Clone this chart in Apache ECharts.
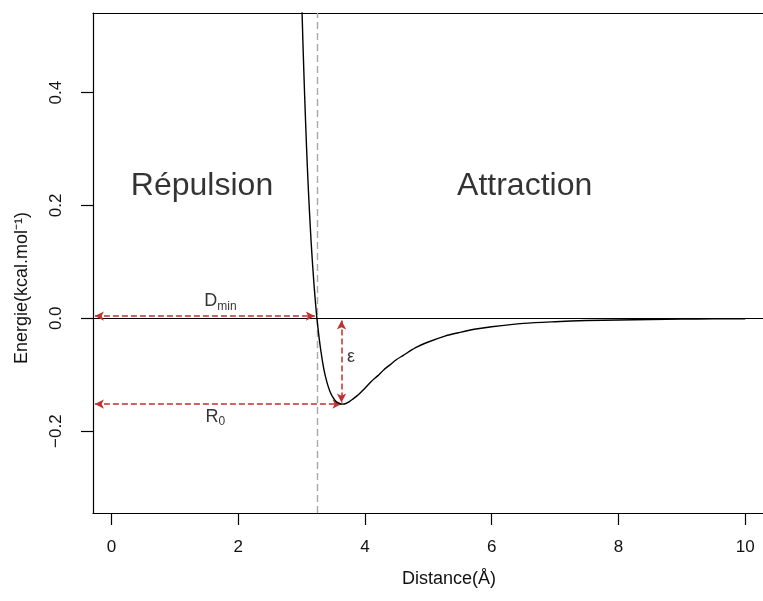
<!DOCTYPE html>
<html>
<head>
<meta charset="utf-8">
<script src="https://cdn.jsdelivr.net/npm/echarts@6/dist/echarts.min.js"></script>
<style>
  html, body { margin: 0; padding: 0; background: #fff; }
  #chart { width: 763px; height: 601px; }
</style>
</head>
<body>
<div id="chart"></div>
<script>
// courbe : distance (Å) / énergie (kcal/mol)
const distance = [2.98, 3.0, 3.02, 3.05, 3.08, 3.1, 3.125, 3.15, 3.175, 3.2, 3.225, 3.25,
  3.3, 3.35, 3.4, 3.45, 3.5, 3.55, 3.6, 3.64, 3.7, 3.75, 3.8, 3.9, 4.0, 4.1, 4.2, 4.3,
  4.4, 4.5, 4.6, 4.8, 5.0, 5.25, 5.5, 5.75, 6.0, 6.5, 7.0, 7.5, 8.0, 8.5, 9.0, 9.5, 10.0];
const energie = [0.668, 0.578, 0.495, 0.391, 0.300, 0.247, 0.189, 0.138, 0.094, 0.055, 0.021, -0.008,
  -0.054, -0.089, -0.113, -0.130, -0.141, -0.148, -0.151, -0.152, -0.151, -0.148, -0.144, -0.135, -0.124, -0.112, -0.102, -0.091,
  -0.082, -0.073, -0.066, -0.052, -0.042, -0.032, -0.025, -0.019, -0.015, -0.009, -0.006, -0.004, -0.003, -0.002, -0.0013, -0.001, -0.0007];

const xTicks = [0, 2, 4, 6, 8, 10];
const yTicks = [-0.2, 0, 0.2, 0.4];

// repères : sigma (passage à zéro), R0 (minimum), epsilon (profondeur du puits)
const sigma = 3.24;
const r0 = 3.63;
const epsilon = -0.152;
const dminY = 0.004;
const axisStart = -0.26;

const regionLabels = ['Répulsion', 'Attraction'];
const regionPos = [[1.43, 0.235], [6.52, 0.235]];

const red = '#c0302e';
const font = 'Liberation Sans, Arial, Helvetica, sans-serif';

const achart = echarts.init(document.getElementById('chart'));

const arrowLine = {
  symbol: ['arrow', 'arrow'],
  symbolSize: [7, 9],
  silent: true,
  label: { show: false },
  lineStyle: { color: red, type: [6, 3], width: 1.5 },
  emphasis: { disabled: true }
};

const frameLine = { show: true, onZero: false, lineStyle: { color: '#000', width: 1.2 } };

var option = {
  backgroundColor: '#fff',
  animation: false,
  grid: { left: 93, top: 13, right: 0, bottom: 88, show: false },
  xAxis: [
    {
      type: 'value',
      min: -0.29,
      max: 10.28,
      name: 'Distance(Å)',
      nameLocation: 'middle',
      nameGap: 57,
      nameTextStyle: { fontFamily: font, fontSize: 18, color: '#111', padding: [0, 0, 0, 42] },
      axisLine: frameLine,
      splitLine: { show: false },
      axisTick: { show: true, customValues: xTicks, length: 12, lineStyle: { color: '#000', width: 1.2 } },
      axisLabel: {
        customValues: xTicks, margin: 26, fontFamily: font, fontSize: 17, color: '#111'
      }
    },
    {
      // bord supérieur du cadre
      type: 'value',
      position: 'top',
      min: -0.29,
      max: 10.28,
      axisLine: frameLine,
      axisTick: { show: false },
      axisLabel: { show: false },
      splitLine: { show: false }
    }
  ],
  yAxis: {
    type: 'value',
    min: -0.345,
    max: 0.541,
    name: 'Energie(kcal.mol⁻¹)',
    nameLocation: 'middle',
    nameGap: 62,
    nameTextStyle: { fontFamily: font, fontSize: 18, color: '#111', padding: [0, 50, 0, 0] },
    axisLine: frameLine,
    splitLine: { show: false },
    axisTick: { show: true, customValues: yTicks, length: 12, lineStyle: { color: '#000', width: 1.2 } },
    axisLabel: {
      customValues: yTicks,
      rotate: 90,
      margin: 28,
      align: 'center',
      verticalAlign: 'bottom',
      fontFamily: font, fontSize: 17, color: '#111',
      formatter: v => (v < 0 ? '−' : '') + Math.abs(v).toFixed(1)
    }
  },
  series: [
    {
      name: 'potentiel',
      type: 'line',
      data: distance.map((d, i) => [d, energie[i]]),
      showSymbol: false,
      smooth: 0.3,
      clip: true,
      lineStyle: { color: '#000', width: 1.4 },
      z: 5,
      markLine: {
        symbol: 'none',
        silent: true,
        label: { show: false },
        emphasis: { disabled: true },
        data: [
          { yAxis: 0, lineStyle: { color: '#000', type: 'solid', width: 1.2 } },
          { xAxis: sigma, lineStyle: { color: '#a8a8a8', type: [7, 4], width: 1.4 } }
        ]
      }
    },
    {
      name: 'fleches',
      type: 'line',
      data: [],
      markLine: Object.assign({}, arrowLine, {
        data: [
          [{ coord: [axisStart, dminY] }, { coord: [sigma - 0.03, dminY] }],
          [{ coord: [axisStart, epsilon] }, { coord: [r0, epsilon] }],
          [{ coord: [r0, -0.004] }, { coord: [r0, epsilon + 0.003] }]
        ]
      })
    },
    {
      name: 'regions',
      type: 'scatter',
      symbolSize: 0,
      silent: true,
      data: regionPos.map((p, i) => ({ value: p, name: regionLabels[i] })),
      label: {
        show: true, position: [0, 0], align: 'center', verticalAlign: 'middle',
        formatter: p => p.name,
        fontFamily: font, fontSize: 32, color: '#000', textBorderWidth: 0
      }
    },
    {
      name: 'reperes',
      type: 'scatter',
      symbolSize: 0,
      silent: true,
      data: [
        { value: [1.72, 0.030], name: '{m|D}{s|min}' },
        { value: [1.64, -0.175], name: '{m|R}{s|0}' },
        { value: [3.78, -0.068], name: '{m|ε}' }
      ],
      label: {
        show: true, position: [0, 0], align: 'center', verticalAlign: 'middle',
        formatter: p => p.name,
        fontFamily: font, color: '#000', textBorderWidth: 0,
        rich: {
          m: { fontFamily: font, fontSize: 18, color: '#000' },
          s: { fontFamily: font, fontSize: 12, color: '#000', padding: [10, 0, 0, 0] }
        }
      }
    }
  ]
};

achart.setOption(option);
</script>
</body>
</html>
